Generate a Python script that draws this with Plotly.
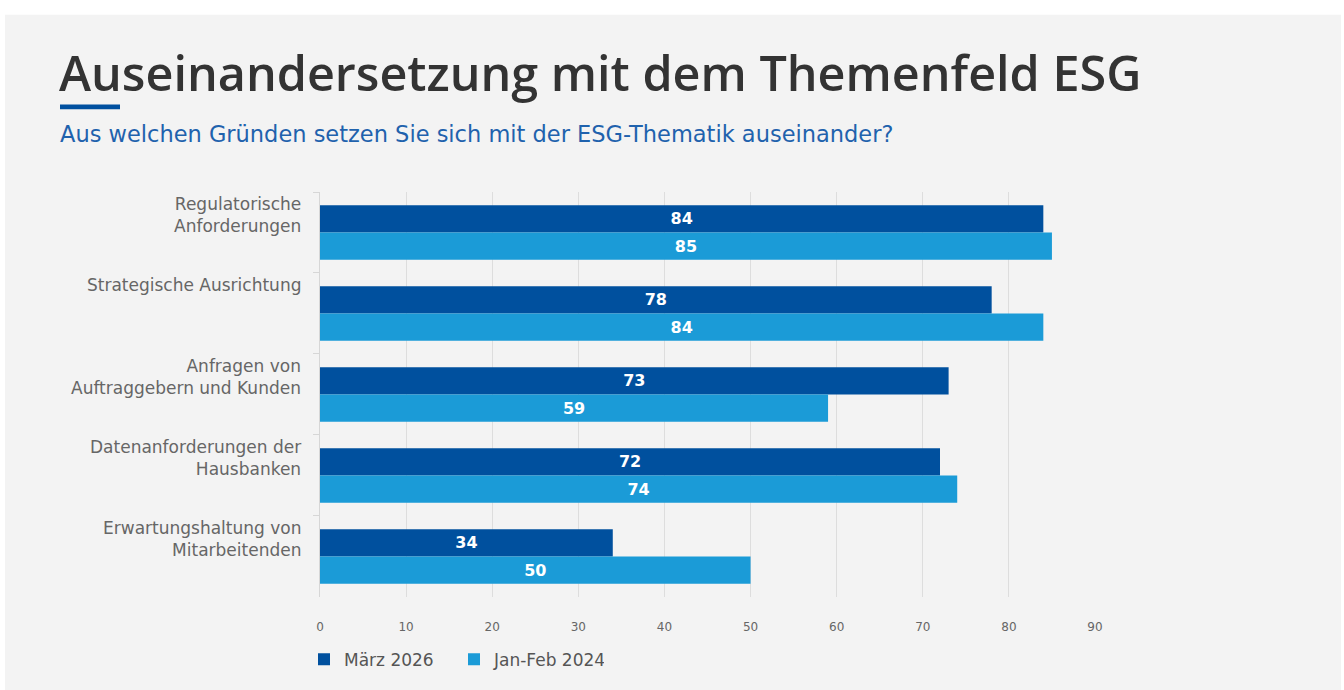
import plotly.graph_objects as go

categories = [
    "Regulatorische Anforderungen",
    "Strategische Ausrichtung",
    "Anfragen von Auftraggebern und Kunden",
    "Datenanforderungen der Hausbanken",
    "Erwartungshaltung von Mitarbeitenden",
]
category_labels = [
    "Regulatorische<br>Anforderungen",
    "Strategische Ausrichtung",
    "Anfragen von<br>Auftraggebern und Kunden",
    "Datenanforderungen der<br>Hausbanken",
    "Erwartungshaltung von<br>Mitarbeitenden",
]
series_names = ["März 2026", "Jan-Feb 2024"]
values_2026 = [84, 78, 73, 72, 34]
values_2024 = [85, 84, 59, 74, 50]
x_ticks = [0, 10, 20, 30, 40, 50, 60, 70, 80, 90]

title_text = "Auseinandersetzung mit dem Themenfeld ESG"
subtitle_text = "Aus welchen Gründen setzen Sie sich mit der ESG-Thematik auseinander?"

TITLE_FONT = "Open Sans"
FONT = "DejaVu Sans"
DARK = "#00509e"
LIGHT = "#1b9bd7"
PANEL = "#f3f3f3"
W, H = 1344, 690
L, R, T, B = 320, 1095, 192, 608


def px2x(px):
    return (px - L) / (R - L)


def py2y(py):
    return (B - py) / (B - T)


fig = go.Figure()
for name, vals, col in [(series_names[0], values_2026, DARK), (series_names[1], values_2024, LIGHT)]:
    fig.add_trace(go.Bar(
        y=categories, x=vals, name=name, orientation="h",
        marker=dict(color=col, line=dict(width=0)),
        texttemplate="%{x}", textposition="inside", insidetextanchor="middle",
        textangle=0, constraintext="none",
        textfont=dict(family=FONT, size=16, color="white", weight="bold"),
        hoverinfo="x+name",
    ))

band_px = (B - T) / len(categories)
annotations = []
for cat, lab in zip(categories, category_labels):
    annotations.append(dict(
        x=0, xref="paper", y=cat, yref="y", yanchor="top", xanchor="right",
        yshift=band_px / 2 - 1, xshift=-17, text=lab, showarrow=False, align="right",
        font=dict(family=FONT, size=17, color="#666666"),
    ))
annotations.append(dict(
    x=px2x(57), y=py2y(33), xref="paper", yref="paper", xanchor="left", yanchor="top",
    text=title_text, showarrow=False,
    font=dict(family=TITLE_FONT, size=48.5, color="#333333", weight=600),
))
annotations.append(dict(
    x=px2x(58), y=py2y(117), xref="paper", yref="paper", xanchor="left", yanchor="top",
    text=subtitle_text, showarrow=False,
    font=dict(family=FONT, size=22.5, color="#1f62ad"),
))

shapes = [
    # white frame around the grey panel (top, left, right)
    dict(type="rect", xref="paper", yref="paper", x0=px2x(-20), x1=px2x(1400), y0=py2y(10), y1=py2y(-20),
         fillcolor="white", line=dict(width=0), layer="below"),
    dict(type="rect", xref="paper", yref="paper", x0=px2x(-20), x1=px2x(5), y0=py2y(720), y1=py2y(-20),
         fillcolor="white", line=dict(width=0), layer="below"),
    dict(type="rect", xref="paper", yref="paper", x0=px2x(1341), x1=px2x(1400), y0=py2y(720), y1=py2y(-20),
         fillcolor="white", line=dict(width=0), layer="below"),
    dict(type="rect", xref="paper", yref="paper", x0=px2x(60), x1=px2x(120), y0=py2y(107), y1=py2y(102),
         fillcolor="#0050a0", line=dict(width=0), layer="above"),
]

fig.update_layout(
    width=W, height=H,
    margin=dict(l=L, r=W - R, t=T, b=H - B, pad=0),
    paper_bgcolor=PANEL, plot_bgcolor="rgba(0,0,0,0)",
    barmode="group", bargap=0.327, bargroupgap=0,
    showlegend=True,
    legend=dict(orientation="h", x=px2x(304), y=py2y(654), xanchor="left", yanchor="top",
                font=dict(family=FONT, size=17, color="#555555"), entrywidth=105,
                bgcolor="rgba(0,0,0,0)", traceorder="normal"),
    annotations=annotations, shapes=shapes,
    font=dict(family=FONT),
    xaxis=dict(range=[0, 90], tickvals=x_ticks, showgrid=True, gridcolor="#dddddd", gridwidth=1,
               zeroline=False, showline=False, ticks="", ticklabelstandoff=21,
               tickfont=dict(family=FONT, size=12, color="#666666"), fixedrange=True),
    yaxis=dict(categoryorder="array", categoryarray=categories, autorange="reversed",
               showticklabels=False, showline=True, linecolor="#d6d6d6", linewidth=1,
               ticks="outside", tickson="boundaries", ticklen=6, tickcolor="#d6d6d6",
               showgrid=False, fixedrange=True),
)

fig.write_html("out.html", config={"displayModeBar": False})
